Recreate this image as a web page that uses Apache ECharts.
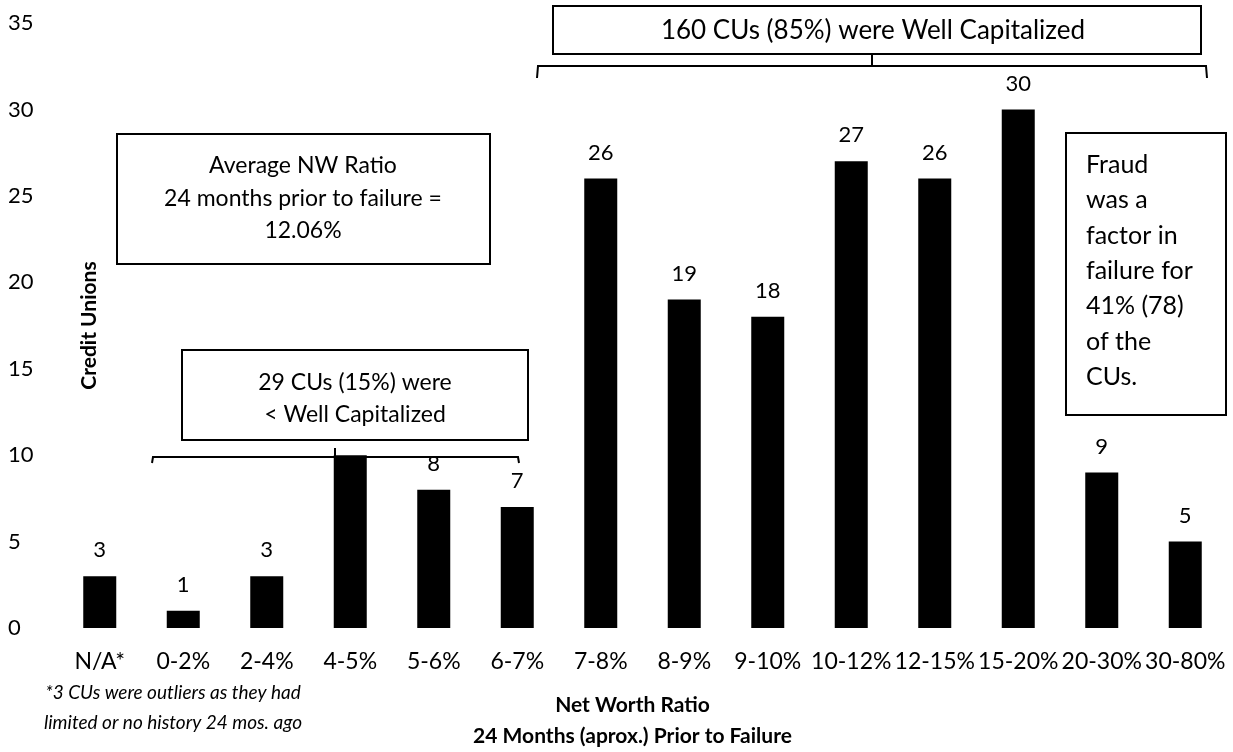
<!DOCTYPE html>
<html>
<head>
<meta charset="utf-8">
<script src="https://cdn.jsdelivr.net/npm/echarts@6/dist/echarts.min.js"></script>
<style>
  html, body { margin: 0; padding: 0; background: #fff; }
  #chart { width: 1233px; height: 752px; }
</style>
</head>
<body>
<div id="chart"></div>
<script>
// categories along the x axis (net worth ratio buckets)
var categories = ["N/A*", "0-2%", "2-4%", "4-5%", "5-6%", "6-7%", "7-8%", "8-9%", "9-10%", "10-12%", "12-15%", "15-20%", "20-30%", "30-80%"];
// number of credit unions in each bucket
var creditUnions = [3, 1, 3, 10, 8, 7, 26, 19, 18, 27, 26, 30, 9, 5];
// y axis range
var yMin = 0, yMax = 35, yStep = 5;

var FONT = "Lato";
var chart = echarts.init(document.getElementById("chart"));

// white box with black border, drawn over the bars
function box(x, y, w, h) {
    return {
        type: "rect", z: 100,
        shape: { x: x, y: y, width: w, height: h },
        style: { fill: "#fff", stroke: "#000", lineWidth: 2 }
    };
}
function txt(x, y, s, align, size, extra) {
    return {
        type: "text", z: 101, x: x, y: y,
        style: { text: s, fill: "#000", font: (extra || "") + " " + size + "px " + FONT, textAlign: align, textVerticalAlign: "middle" }
    };
}
function line(points, z) {
    return {
        type: "polyline", z: z || 99,
        shape: { points: points },
        style: { stroke: "#000", lineWidth: 2, fill: null }
    };
}

var graphics = [
    // 160 CUs bracket and box
    line([[537, 78], [538, 66], [1206, 66], [1207, 78]]),
    line([[872, 54], [872, 66]]),
    box(553, 6, 648, 48),
    txt(873, 31, "160 CUs (85%) were Well Capitalized", "center", 26),

    // Average NW ratio box
    box(117, 134, 373, 130),
    txt(303, 166, "Average NW Ratio", "center", 23),
    txt(303, 199, "24 months prior to failure =", "center", 23),
    txt(303, 231, "12.06%", "center", 23),

    // 29 CUs bracket and box
    line([[152, 463], [153, 457], [518, 457], [519, 463]], 110),
    line([[335, 448], [335, 457]], 110),
    box(182, 350, 346, 90),
    txt(355, 383, "29 CUs (15%) were", "center", 23),
    txt(355, 415, "< Well Capitalized", "center", 23),

    // fraud box
    box(1066, 133, 160, 282),
    txt(1086, 165, "Fraud", "left", 25),
    txt(1086, 200, "was a", "left", 25),
    txt(1086, 236, "factor in", "left", 25),
    txt(1086, 271, "failure for", "left", 25),
    txt(1086, 306, "41% (78)", "left", 25),
    txt(1086, 342, "of the", "left", 25),
    txt(1086, 377, "CUs.", "left", 25),

    // footnote
    txt(173, 693, "*3 CUs were outliers as they had", "center", 19, "italic"),
    txt(173, 723, "limited or no history 24 mos. ago", "center", 19, "italic")
];

chart.setOption({
    backgroundColor: "#fff",
    animation: false,
    grid: { left: 58, right: 6, top: 23, bottom: 124, outerBoundsMode: "none" },
    xAxis: {
        type: "category",
        data: categories,
        axisLine: { show: false },
        axisTick: { show: false },
        axisLabel: { color: "#000", fontSize: 23, fontFamily: FONT, margin: 22, interval: 0 },
        name: "Net Worth Ratio\n24 Months (aprox.) Prior to Failure",
        nameLocation: "middle",
        nameGap: 62,
        nameTextStyle: { color: "#000", fontSize: 21, fontWeight: "bold", fontFamily: FONT, lineHeight: 31, padding: [0, 20, 0, 0] }
    },
    yAxis: {
        type: "value",
        min: yMin, max: yMax, interval: yStep,
        axisLine: { show: false },
        axisTick: { show: false },
        splitLine: { show: false },
        axisLabel: { color: "#000", fontSize: 22, fontFamily: FONT, align: "left", margin: 50 },
        name: "Credit Unions",
        nameLocation: "middle",
        nameGap: -42,
        nameRotate: 90,
        nameTextStyle: { color: "#000", fontSize: 21, fontWeight: "bold", fontFamily: FONT }
    },
    series: [{
        type: "bar",
        data: creditUnions,
        barWidth: 33,
        itemStyle: { color: "#000" },
        label: { show: true, position: "top", distance: 15, color: "#000", fontSize: 22, fontFamily: FONT }
    }],
    graphic: graphics
});
</script>
</body>
</html>
